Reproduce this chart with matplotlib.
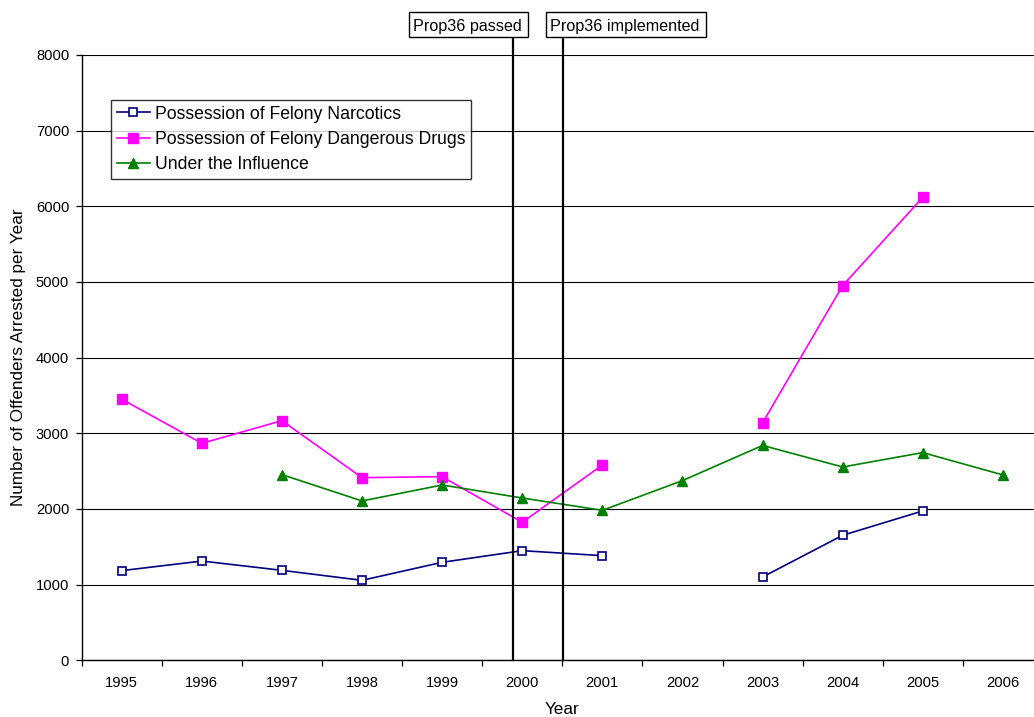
import numpy as np
import matplotlib
matplotlib.use("Agg")
import matplotlib.pyplot as plt
from matplotlib.patches import Rectangle

plt.rcParams["font.family"] = ["Liberation Sans", "DejaVu Sans"]

# ---- data -------------------------------------------------------------
years = ["1995", "1996", "1997", "1998", "1999", "2000",
         "2001", "2002", "2003", "2004", "2005", "2006"]
narcotics = [1185, 1312, 1189, 1057, 1295, 1449,
             1383, np.nan, 1101, 1652, 1974, np.nan]
dangerous_drugs = [3450, 2868, 3167, 2414, 2427, 1824,
                   2581, np.nan, 3138, 4952, 6119, np.nan]
under_influence = [np.nan, np.nan, 2454, 2106, 2317, 2145,
                   1982, 2375, 2840, 2555, 2745, 2450]
series_names = ["Possession of Felony Narcotics",
                "Possession of Felony Dangerous Drugs",
                "Under the Influence"]
event_labels = ["Prop36 passed", "Prop36 implemented"]
event_x = [4.88, 5.51]          # category-axis positions of the events
y_ticks = [0, 1000, 2000, 3000, 4000, 5000, 6000, 7000, 8000]

# ---- figure -----------------------------------------------------------
W, H = 1034, 717
fig = plt.figure(figsize=(W / 100, H / 100), dpi=100)

def fx(px):
    return px / W

def fy(py):
    return 1 - py / H

left, right, top, bottom = 81.7, 1042.9, 55.0, 660.3
ax = fig.add_axes([fx(left), fy(bottom), fx(right - left), (bottom - top) / H])

x = np.arange(len(years))
ax.plot(x, narcotics, color="#000080", lw=1.2, marker="s", ms=6.4,
        mfc="white", mec="#000080", mew=1.2, label=series_names[0], zorder=4)
ax.plot(x, dangerous_drugs, color="#FF00FF", lw=1.2, marker="s", ms=6.6,
        mfc="#FF00FF", mec="#FF00FF", label=series_names[1], zorder=4)
ax.plot(x, under_influence, color="#008000", lw=1.2, marker="^", ms=7.2,
        mfc="#008000", mec="#008000", label=series_names[2], zorder=4)

ax.set_xlim(-0.5, len(years) - 0.5)
ax.set_ylim(0, 8000)
ax.set_yticks(y_ticks)
ax.set_yticklabels([str(v) for v in y_ticks], fontsize=10.6)
ax.yaxis.grid(True, color="black", lw=0.8)
ax.set_axisbelow(True)

# category labels sit in the middle, tick marks between categories
ax.set_xticks(x)
ax.set_xticklabels(years, fontsize=10.6)
ax.tick_params(axis="x", length=0, pad=11)
ax.set_xticks(np.arange(-0.5, len(years) + 0.5, 1.0), minor=True)
ax.tick_params(axis="x", which="minor", length=4.5, width=0.9, direction="out")
ax.tick_params(axis="y", length=4.5, width=0.9, direction="out", pad=4.5)

for side in ("top", "right"):
    ax.spines[side].set_visible(False)
for side in ("left", "bottom"):
    ax.spines[side].set_linewidth(1.0)

ax.set_xlabel("Year", fontsize=12.3, labelpad=9)
ax.set_ylabel("Number of Offenders Arrested per Year", fontsize=12.3, labelpad=7)

# event markers: vertical lines running up to labelled boxes above the plot
box_top, box_bot = 12.3, 36.7
box_lefts = [409.3, 546.0]
box_rights = [528.3, 705.7]
line_top_axes = (bottom - box_bot) / (bottom - top)
for xe, lab, bl, br in zip(event_x, event_labels, box_lefts, box_rights):
    ax.axvline(xe, ymin=0, ymax=line_top_axes, color="black", lw=1.6,
               clip_on=False, zorder=5)
    fig.patches.append(Rectangle((fx(bl), fy(box_bot)), fx(br - bl),
                                 (box_bot - box_top) / H, transform=fig.transFigure,
                                 facecolor="white", edgecolor="black", lw=1.0))
    fig.text(fx(bl + 4), fy((box_top + box_bot) / 2), lab, fontsize=11.6,
             ha="left", va="center_baseline")

leg = ax.legend(loc="upper left", bbox_to_anchor=(fx(111.3), fy(100.0)),
                bbox_transform=fig.transFigure, borderaxespad=0,
                fontsize=12.7, frameon=True, fancybox=False, shadow=False,
                handlelength=1.85, handletextpad=0.28, labelspacing=0.47,
                borderpad=0.32, markerscale=1.0)
leg.get_frame().set_edgecolor("black")
leg.get_frame().set_linewidth(1.0)

fig.savefig("out.png", dpi=100)
